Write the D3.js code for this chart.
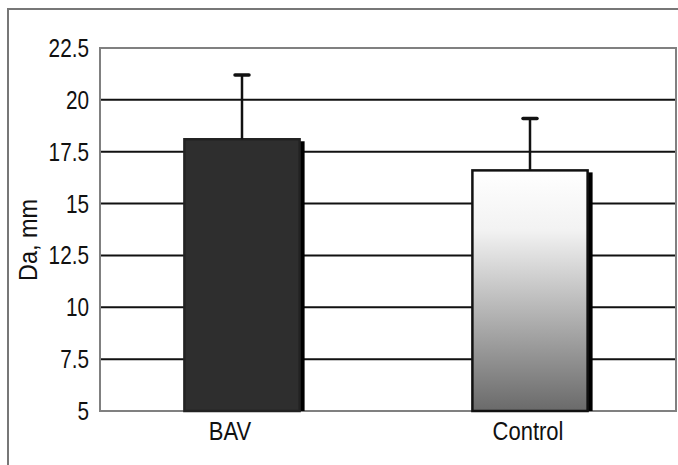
<!DOCTYPE html>
<html>
<head>
<meta charset="utf-8">
<script src="https://cdn.jsdelivr.net/npm/d3@7"></script>
<style>
  html, body { margin: 0; padding: 0; background: #fff; }
  svg text { font-family: "Liberation Sans", Arial, sans-serif; fill: #111; }
</style>
</head>
<body>
<svg id="chart" width="678" height="465"></svg>
<script>
// Aortic diameter by group (mean ± SD)
const groups = ["BAV", "Control"];
const means = [18.1, 16.6];
const sds = [3.1, 2.5];
const yTicks = [5, 7.5, 10, 12.5, 15, 17.5, 20, 22.5];
const yLabel = "Da, mm";

const svg = d3.select("#chart");
const W = 678, H = 465;
const m = { left: 100, right: 2, top: 48, bottom: 54 };
const FS = 25;          // label font size
const NARROW = 0.86;    // horizontal squeeze for a condensed look

const x = d3.scaleBand().domain(groups).range([98, 674]).paddingInner(0.6).paddingOuter(0.3);
const y = d3.scaleLinear().domain([5, 22.5]).range([H - m.bottom, m.top]);

// outer panel frame
svg.append("rect")
  .attr("x", 8).attr("y", 9).attr("width", W + 10).attr("height", H + 10)
  .attr("fill", "none").attr("stroke", "#777").attr("stroke-width", 2);

// gradient for the control bar
const defs = svg.append("defs");
const grad = defs.append("linearGradient").attr("id", "ctrlGrad")
  .attr("x1", 0).attr("y1", 0).attr("x2", 0).attr("y2", 1);
grad.append("stop").attr("offset", "0%").attr("stop-color", "#ffffff");
grad.append("stop").attr("offset", "25%").attr("stop-color", "#f2f2f2");
grad.append("stop").attr("offset", "100%").attr("stop-color", "#6a6a6a");

// horizontal gridlines
svg.append("g").selectAll("line")
  .data(yTicks.filter(t => t > 5 && t < 22.5))
  .join("line")
  .attr("x1", m.left).attr("x2", W - m.right)
  .attr("y1", d => y(d)).attr("y2", d => y(d))
  .attr("stroke", "#111").attr("stroke-width", 2);

// plot frame
svg.append("rect")
  .attr("x", m.left).attr("y", y(22.5))
  .attr("width", W - m.right - m.left).attr("height", y(5) - y(22.5))
  .attr("fill", "none").attr("stroke", "#808080").attr("stroke-width", 2);

// y tick labels (condensed via horizontal scale)
svg.append("g").selectAll("text")
  .data(yTicks)
  .join("text")
  .attr("transform", d => `translate(${m.left - 11},${y(d)}) scale(0.83,1)`)
  .attr("text-anchor", "end")
  .attr("dy", "0.36em")
  .attr("font-size", FS)
  .text(d => String(d));

// bars
const bars = svg.append("g");
groups.forEach((g, i) => {
  const bx = x(g), bw = x.bandwidth();
  const top = y(means[i]), base = y(5);
  // right-hand shadow
  bars.append("rect")
    .attr("x", bx + bw - 1).attr("y", top + 2)
    .attr("width", 6).attr("height", base - top - 2)
    .attr("fill", "#000");
  bars.append("rect")
    .attr("x", bx).attr("y", top)
    .attr("width", bw).attr("height", base - top)
    .attr("fill", i === 0 ? "#2e2e2e" : "url(#ctrlGrad)")
    .attr("stroke", i === 0 ? "#222" : "#111").attr("stroke-width", 2.5);
});

// error bars
const err = svg.append("g");
groups.forEach((g, i) => {
  const cx = x(g) + x.bandwidth() / 2;
  err.append("line")
    .attr("x1", cx).attr("x2", cx)
    .attr("y1", y(means[i])).attr("y2", y(means[i] + sds[i]))
    .attr("stroke", "#111").attr("stroke-width", 2.5);
  err.append("line")
    .attr("x1", cx - 7).attr("x2", cx + 7)
    .attr("y1", y(means[i] + sds[i])).attr("y2", y(means[i] + sds[i]))
    .attr("stroke", "#111").attr("stroke-width", 3.5).attr("stroke-linecap", "round");
});

// category labels
const catShift = [-12, -2];
svg.append("g").selectAll("text")
  .data(groups)
  .join("text")
  .attr("transform", (d, i) => `translate(${x(d) + x.bandwidth() / 2 + catShift[i]},${y(5) + 29}) scale(0.88,1)`)
  .attr("text-anchor", "middle")
  .attr("font-size", FS)
  .text(d => d);

// y axis title
svg.append("text")
  .attr("transform", `translate(37,240) rotate(-90) scale(0.9,1)`)
  .attr("text-anchor", "middle")
  .attr("font-size", 26)
  .text(yLabel);
</script>
</body>
</html>
